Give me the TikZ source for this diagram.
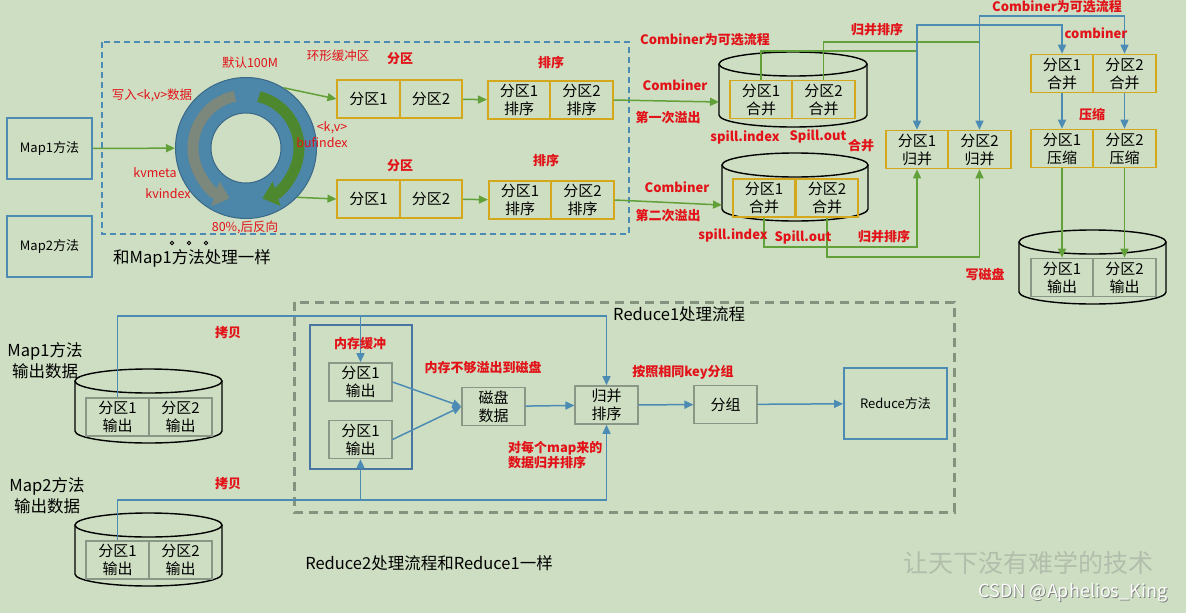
\documentclass[tikz,border=0pt]{standalone}
\usepackage{fontspec}
\setmainfont{Noto Sans CJK SC}
\usetikzlibrary{arrows.meta}

\definecolor{bgcol}{RGB}{206,222,194}
\definecolor{redtxt}{RGB}{226,18,24}
\definecolor{goldline}{RGB}{212,168,28}
\definecolor{grayline}{RGB}{138,150,134}
\definecolor{greenline}{RGB}{98,160,58}
\definecolor{blueline}{RGB}{76,140,180}
\definecolor{bufblue}{RGB}{72,118,160}
\definecolor{ringfill}{RGB}{76,134,168}
\definecolor{ringedge}{RGB}{58,104,136}
\definecolor{ringgray}{RGB}{124,136,124}
\definecolor{ringgreen}{RGB}{78,136,46}
\definecolor{dashgray}{RGB}{134,146,128}
\definecolor{markgray}{RGB}{178,190,172}

\newcommand{\partfont}{\fontsize{15}{18}\selectfont}
% drum: left, right, top, bottom
\newcommand{\drum}[4]{%
  \pgfmathsetmacro\dcx{(#1+#2)/2}\pgfmathsetmacro\drx{(#2-#1)/2}
  \draw[drumline] (\dcx,#3+12) ellipse[x radius=\drx pt, y radius=12pt];
  \draw[drumline] (#1,#3+12) -- (#1,#4-12)
    arc[start angle=180, end angle=360, x radius=\drx pt, y radius=12pt] -- (#2,#3+12);
}

\begin{document}
\begin{tikzpicture}[
  x=1pt, y=-1pt,
  part/.style={draw=goldline, line width=1.6pt, minimum width=62.5pt, minimum height=38pt,
    inner sep=0pt, align=center, font=\partfont},
  outpart/.style={part, draw=grayline},
  mapbox/.style={draw=blueline, line width=1.5pt, minimum width=85pt, minimum height=61pt,
    font=\fontsize{13}{15}\selectfont},
  redlbl/.style={text=redtxt, font=\fontsize{13}{15}\selectfont\bfseries, inner sep=1pt},
  rednote/.style={text=redtxt, font=\fontsize{12.5}{15}\selectfont, inner sep=1pt},
  plain/.style={font=\fontsize{16.5}{21}\selectfont, align=center, inner sep=1pt},
  gline/.style={draw=greenline, line width=1.5pt},
  garr/.style={gline, -{Triangle[length=9pt,width=8pt]}},
  barr/.style={draw=blueline, line width=1.5pt, -{Triangle[length=9pt,width=8pt]}},
  bboth/.style={barr, {Triangle[length=9pt,width=8pt]}-{Triangle[length=9pt,width=8pt]}},
  drumline/.style={draw=black, line width=1.4pt}
]
  \fill[bgcol] (0,0) rectangle (1186,613);
  \useasboundingbox (0,0) rectangle (1186,613);

  % ---- map side ----
  \draw[blueline, line width=1.4pt, dash pattern=on 6pt off 4pt] (102,42) rectangle (629,234);
  \node[mapbox] (map1) at (49.5,148.5) {Map1方法};
  \node[mapbox] (map2) at (49.5,246.5) {Map2方法};

  \node[circle, draw=ringedge, fill=ringfill, line width=1pt, minimum size=141pt, inner sep=0pt] (ring) at (246,148) {};
  \node[circle, draw=ringedge, fill=bgcol, line width=1pt, minimum size=70pt, inner sep=0pt] (hole) at (ring.center) {};
  \draw[ringgray, line width=11pt, -{Triangle[length=15pt,width=25pt]}]
    ([shift={(102:53pt)}]ring.center) arc[start angle=102, end angle=252, radius=53pt];
  \draw[ringgreen, line width=11pt, -{Triangle[length=15pt,width=25pt]}]
    ([shift={(76:53pt)}]ring.center) arc[start angle=76, end angle=-72, radius=53pt];

  \node[rednote] at (250,63) {默认100M};
  \node[rednote] at (338,56) {环形缓冲区};
  \node[rednote] at (152,95) {写入<k,v>数据};
  \node[rednote] at (155,173) {kvmeta};
  \node[rednote] at (168,194) {kvindex};
  \node[rednote] at (332,128) {<k,v>};
  \node[rednote] at (322,143) {bufindex};
  \node[rednote] at (245,227) {80\%,后反向};
  \node[plain] at (192,258) {和Map1方法处理一样};
  \foreach \x in {172,189,206}
    \draw[line width=0.8pt] (\x,243) circle[radius=1.8pt];

  \node[part] (pa1) at (368.5,99) {分区1};
  \node[part] (pa2) at (431,99) {分区2};
  \node[part] (sa1) at (519,100) {分区1\\排序};
  \node[part] (sa2) at (581.5,100) {分区2\\排序};
  \node[part] (pb1) at (368.5,199) {分区1};
  \node[part] (pb2) at (431,199) {分区2};
  \node[part] (sb1) at (520,200) {分区1\\排序};
  \node[part] (sb2) at (582.5,200) {分区2\\排序};
  \node[redlbl] at (400,59) {分区};
  \node[redlbl] at (551,63) {排序};
  \node[redlbl] at (400,166) {分区};
  \node[redlbl] at (546,161) {排序};

  \draw[garr] (map1) -- (ring);
  \draw[garr] (ring.58) -- (pa1.west);
  \draw[garr] (ring.-44) -- (pb1.west);
  \draw[garr] (pa2) -- (sa1);
  \draw[garr] (pb2) -- (sb1);

  % ---- spill side ----
  \drum{719}{867}{52}{127}
  \drum{722}{868}{153}{221}
  \drum{1019}{1166}{230}{304}
  \node[part] (ca1) at (761,99.5) {分区1\\合并};
  \node[part] (ca2) at (823.5,99.5) {分区2\\合并};
  \node[part] (cb1) at (764,198) {分区1\\合并};
  \node[part] (cb2) at (827,198) {分区2\\合并};
  \node[part] (m1) at (917,149.5) {分区1\\归并};
  \node[part] (m2) at (979.5,149.5) {分区2\\归并};
  \node[part] (h1) at (1062,73.5) {分区1\\合并};
  \node[part] (h2) at (1124.5,73.5) {分区2\\合并};
  \node[part] (z1) at (1062,148.5) {分区1\\压缩};
  \node[part] (z2) at (1124.5,148.5) {分区2\\压缩};
  \node[outpart] (o1) at (1062,277.5) {分区1\\输出};
  \node[outpart] (o2) at (1124.5,277.5) {分区2\\输出};

  \coordinate (d1) at (719,102);
  \coordinate (d2) at (722,205);
  \draw[garr] (sa2.east) -- (d1);
  \draw[garr] (sb2.east) -- (d2);

  \coordinate (t1) at (917,25);
  \coordinate (t2) at (979.5,16);
  \coordinate (j1) at (917,51);
  \coordinate (j2) at (979.5,42);
  \coordinate (k1) at (917,247);
  \coordinate (k2) at (979.5,257);
  \draw[gline] (ca1.north) |- (j1);
  \draw[gline] (ca2.north) |- (j2);
  \draw[bboth] (m1.north) -- (t1) -| (h1.north);
  \draw[bboth] (m2.north) -- (t2) -| (h2.north);
  \draw[garr] (cb1.south) |- (k1) -- (m1.south);
  \draw[garr] (cb2.south) |- (k2) -- (m2.south);
  \draw[barr] (h1) -- (z1);
  \draw[barr] (h2) -- (z2);
  \draw[garr] (z1) -- (o1);
  \draw[garr] (z2) -- (o2);

  \node[redlbl] at (705,40) {Combiner为可选流程};
  \node[redlbl] at (877,30) {归并排序};
  \node[redlbl] at (675,85) {Combiner};
  \node[redlbl] at (668,118) {第一次溢出};
  \node[redlbl] at (745,137) {spill.index};
  \node[redlbl] at (818,136) {Spill.out};
  \node[redlbl] at (861,146) {合并};
  \node[redlbl] at (677,187) {Combiner};
  \node[redlbl] at (668,216) {第二次溢出};
  \node[redlbl] at (733,235) {spill.index};
  \node[redlbl] at (803,237) {Spill.out};
  \node[redlbl] at (884,237) {归并排序};
  \node[redlbl] at (1057,7) {Combiner为可选流程};
  \node[redlbl] at (1096,33) {combiner};
  \node[redlbl] at (1092,115) {压缩};
  \node[redlbl] at (985,274) {写磁盘};

  % ---- reduce side ----
  \draw[dashgray, line width=3pt, dash pattern=on 9pt off 6pt] (294,302) rectangle (954,512);
  \node[plain, anchor=west] at (612,314) {Reduce1处理流程};
  \node[plain] at (45,361) {Map1方法\\输出数据};
  \node[plain] at (47,496) {Map2方法\\输出数据};
  \drum{75}{222}{369}{443}
  \drum{75}{222}{513}{586}
  \node[outpart] (r1a) at (117.5,417) {分区1\\输出};
  \node[outpart] (r1b) at (180.5,417) {分区2\\输出};
  \node[outpart] (r2a) at (117.5,560) {分区1\\输出};
  \node[outpart] (r2b) at (180.5,560) {分区2\\输出};

  \node[draw=bufblue, line width=2pt, minimum width=102pt, minimum height=144pt] (bufbox) at (361,397) {};
  \node[outpart] (buf1) at (360.5,382) {分区1\\输出};
  \node[outpart] (buf2) at (360.5,439.5) {分区1\\输出};
  \node[outpart] (disk) at (493.5,406.5) {磁盘\\数据};
  \node[outpart] (msort) at (606.5,405) {归并\\排序};
  \node[outpart] (group) at (725.5,404.5) {分组};
  \node[draw=blueline, line width=1.8pt, minimum width=103pt, minimum height=71pt,
    font=\fontsize{13}{15}\selectfont] (reduce) at (895.5,403.5) {Reduce方法};

  \coordinate (c1) at (606.5,316);
  \coordinate (c2) at (606.5,500);
  \draw[barr] (r1a.north) |- (c1) -- (msort.north);
  \draw[barr] (buf1.north |- c1) -- (buf1.north);
  \draw[barr] (r2a.north) |- (c2) -- (msort.south);
  \draw[barr] (buf2.south |- c2) -- (buf2.south);
  \draw[barr] (buf1.east) -- (disk.west);
  \draw[barr] (buf2.east) -- (disk.west);
  \draw[barr] (disk) -- (msort);
  \draw[barr] (msort) -- (group);
  \draw[barr] (group) -- (reduce);

  \node[redlbl] at (228,333) {拷贝};
  \node[redlbl] at (228,484) {拷贝};
  \node[redlbl] at (360,344) {内存缓冲};
  \node[redlbl] at (483,368) {内存不够溢出到磁盘};
  \node[redlbl] at (683,372) {按照相同key分组};
  \node[redlbl, anchor=west, align=left] at (507,455) {对每个map来的\\数据归并排序};
  \node[plain] at (429,563) {Reduce2处理流程和Reduce1一样};

  \node[text=markgray, font=\fontsize{25}{25}\selectfont] at (1028,563) {让天下没有难学的技术};
  \node[text=gray, font=\fontsize{18}{20}\selectfont] at (1074,594) {CSDN @Aphelios\_King};
  \node[text=white!90!bgcol, font=\fontsize{18}{20}\selectfont] at (1073,593) {CSDN @Aphelios\_King};
\end{tikzpicture}
\end{document}
